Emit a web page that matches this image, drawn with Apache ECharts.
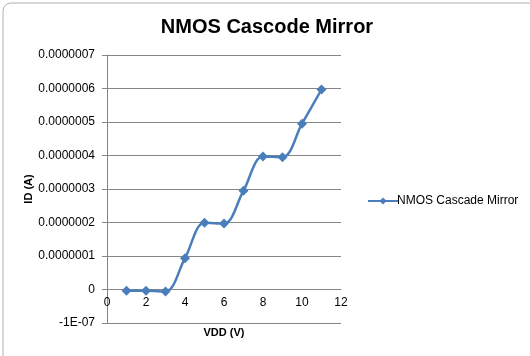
<!DOCTYPE html>
<html>
<head>
<meta charset="utf-8">
<script src="https://cdn.jsdelivr.net/npm/echarts@6/dist/echarts.min.js"></script>
<style>
html,body{margin:0;padding:0;background:#fff;}
#c{width:530px;height:356px;}
</style>
</head>
<body>
<div id="c"></div>
<script>
var titleText = 'NMOS Cascode Mirror';
var seriesName = 'NMOS Cascade Mirror';
var xLabel = 'VDD (V)';
var yLabel = 'ID (A)';
var vdd = [1, 2, 3, 4, 5, 6, 7, 8, 9, 10, 11];
var idValues = [-4e-9, -4e-9, -6e-9, 0.935e-7, 1.99e-7, 1.97e-7, 2.95e-7, 3.97e-7, 3.95e-7, 4.95e-7, 5.97e-7];
var yTickLabels = ['-1E-07', '0', '0.0000001', '0.0000002', '0.0000003', '0.0000004', '0.0000005', '0.0000006', '0.0000007'];

var gridTop = 55, gridBottom = 33, chartH = 356;
var yMin = -1e-7, yMax = 7e-7;
// place x axis at y = 0 (Excel style): shift from bottom by the 0..yMin span
var plotH = chartH - gridTop - gridBottom;
var zeroOffset = -plotH * (0 - yMin) / (yMax - yMin);

var chart = echarts.init(document.getElementById('c'));
var font = "'Liberation Sans', Arial, sans-serif";
chart.setOption({
  animation: false,
  backgroundColor: '#fff',
  title: {
    text: titleText,
    left: 262, top: 12, textAlign: 'center',
    textStyle: {fontFamily: font, fontSize: 20, fontWeight: 'bold', color: '#000'}
  },
  legend: {
    data: [seriesName],
    left: 362, top: 190,
    itemWidth: 30, itemHeight: 9, itemGap: 2,
    textStyle: {fontFamily: font, fontSize: 12, color: '#000', padding: [0,0,0,-6]}
  },
  grid: {left: 107, right: 189, top: gridTop, bottom: gridBottom, containLabel: false, outerBoundsMode: 'none'},
  xAxis: {
    type: 'value', min: 0, max: 12, interval: 2,
    position: 'bottom', offset: zeroOffset,
    name: xLabel, nameLocation: 'middle', nameGap: 38,
    nameTextStyle: {fontFamily: font, fontSize: 11, fontWeight: 'bold', color: '#000'},
    axisLine: {onZero: false, lineStyle: {color: '#868686', width: 1}},
    axisTick: {show: false},
    axisLabel: {fontFamily: font, fontSize: 12, color: '#000', margin: 7},
    splitLine: {show: false}
  },
  yAxis: {
    type: 'value', min: yMin, max: yMax, interval: 1e-7,
    name: yLabel, nameLocation: 'middle', nameGap: 72, nameRotate: 90,
    nameTextStyle: {fontFamily: font, fontSize: 11, fontWeight: 'bold', color: '#000'},
    axisLine: {show: true, onZero: false, lineStyle: {color: '#868686', width: 1}},
    axisTick: {show: true, length: 5, lineStyle: {color: '#868686'}},
    axisLabel: {
      fontFamily: font, fontSize: 12, color: '#000', margin: 12,
      formatter: function (v) {
        var i = Math.round(v / 1e-7) + 1;
        return yTickLabels[i] !== undefined ? yTickLabels[i] : '';
      }
    },
    splitLine: {show: true, lineStyle: {color: '#868686', width: 1}}
  },
  series: [{
    name: seriesName,
    type: 'line',
    data: vdd.map(function (x, i) { return [x, idValues[i]]; }),
    smooth: 0.35,
    symbol: 'diamond',
    symbolSize: 10,
    lineStyle: {color: '#4a7ebb', width: 2.5},
    itemStyle: {color: '#4a7ebb'}
  }],
  graphic: [{
    type: 'rect',
    shape: {x: 3, y: 3, width: 540, height: 360, r: 8},
    style: {fill: 'none', stroke: '#b0b0b0', lineWidth: 1},
    silent: true
  }]
});
</script>
</body>
</html>
